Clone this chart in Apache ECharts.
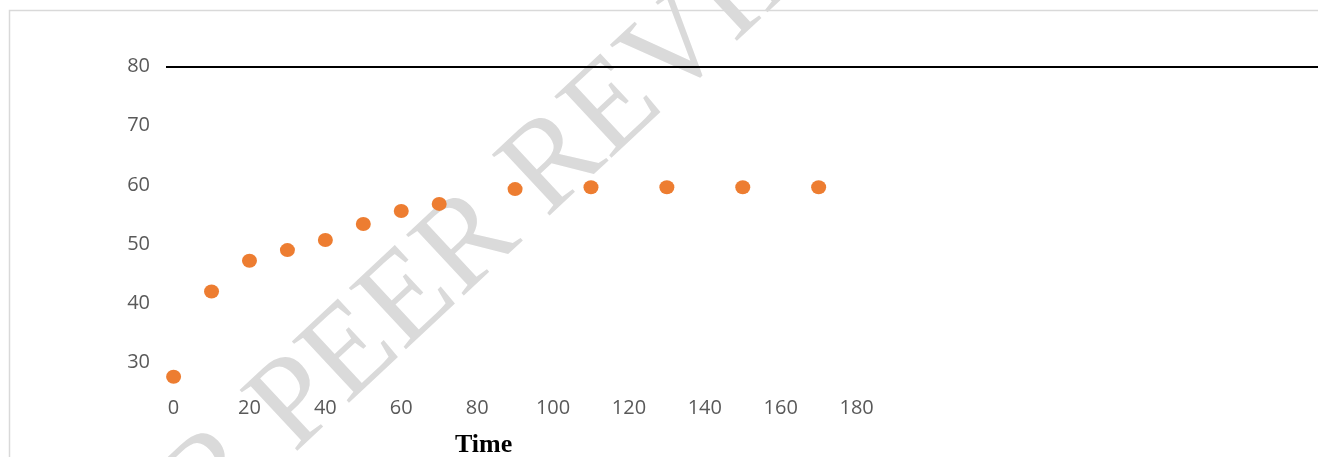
<!DOCTYPE html>
<html>
<head>
<meta charset="utf-8">
<script src="https://cdn.jsdelivr.net/npm/echarts@6/dist/echarts.min.js"></script>
<style>
html,body{margin:0;padding:0;background:#fff;}
#chart{width:1318px;height:457px;}
</style>
</head>
<body>
<div id="chart"></div>
<script>
var times = [0, 10, 20, 30, 40, 50, 60, 70, 90, 110, 130, 150, 170];
var values = [27.6, 42.0, 47.2, 49.0, 50.7, 53.4, 55.6, 56.8, 59.3, 59.6, 59.6, 59.6, 59.6];
var xTickLabels = [0, 20, 40, 60, 80, 100, 120, 140, 160, 180];
var yTickLabels = [30, 40, 50, 60, 70, 80];
var refLineValue = 80;
var xAxisTitle = 'Time';
var watermark = 'FOR PEER REVIEW';

var points = times.map(function (t, i) { return [t, values[i]]; });

var chart = echarts.init(document.getElementById('chart'), null, {renderer: 'canvas'});
chart.setOption({
  animation: false,
  backgroundColor: '#ffffff',
  grid: {left: 166, right: 0, top: 66.5, bottom: 64.8, containLabel: false},
  xAxis: {
    type: 'value', min: -2, max: 301.6,
    axisLine: {show: false}, axisTick: {show: false}, splitLine: {show: false},
    axisLabel: {customValues: xTickLabels, color: '#595959', fontFamily: 'Open Sans', fontSize: 20, margin: 6}
  },
  yAxis: {
    type: 'value', min: 25, max: 80,
    axisLine: {show: false}, axisTick: {show: false}, splitLine: {show: false},
    axisLabel: {customValues: yTickLabels, color: '#595959', fontFamily: 'Open Sans', fontSize: 20, margin: 16}
  },
  graphic: [
    {type: 'rect', z: -10, silent: true, shape: {x: 9.5, y: 10.5, width: 1400, height: 600},
     style: {fill: 'none', stroke: '#d9d9d9', lineWidth: 1.5}},
    {type: 'text', z: -5, silent: true, x: 22, y: 574, rotation: 43 * Math.PI / 180,
     style: {text: watermark, fill: '#dadada', font: '128px "Liberation Serif"', textAlign: 'left', textVerticalAlign: 'top'}},
    {type: 'text', z: 10, silent: true, left: 455, top: 432,
     style: {text: xAxisTitle, fill: '#000000', font: 'bold 26px "Liberation Serif"'}}
  ],
  series: [{
    type: 'scatter', data: points, symbol: 'circle', symbolSize: [15, 14],
    itemStyle: {color: '#ED7D31', opacity: 1}, z: 3,
    markLine: {
      silent: true, symbol: ['none', 'none'], label: {show: false},
      lineStyle: {color: '#000000', width: 2, type: 'solid'},
      data: [{yAxis: refLineValue}]
    }
  }]
});
</script>
</body>
</html>
